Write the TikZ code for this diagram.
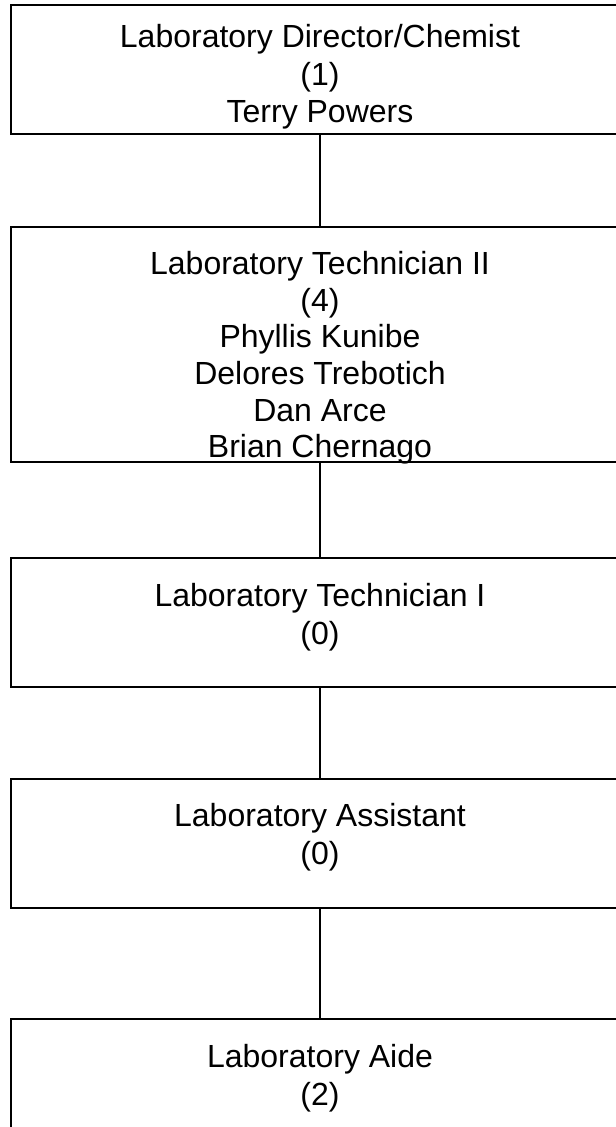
\documentclass[tikz,border=0pt]{standalone}
\usepackage{fontspec}
\setmainfont{Liberation Sans}
\begin{document}
\begin{tikzpicture}[x=0.75pt,y=-0.75pt,
  orgbox/.style={draw=black, line width=2.2pt, rectangle, inner sep=0pt,
    minimum width=463.5pt, fill=white},
  orgtext/.style={anchor=north, align=center, inner sep=0pt,
    font=\fontsize{24}{28}\selectfont},
  link/.style={draw=black, line width=2.2pt}]
\useasboundingbox (0,0) rectangle (616,1127);
\clip (0,0) rectangle (616,1127);
\fill[white] (0,0) rectangle (616,1127);
\node[orgbox, minimum height=96.75pt] (b1) at (320,69.5) {};
\node[orgbox, minimum height=176.25pt] (b2) at (320,344.5) {};
\node[orgbox, minimum height=96.75pt] (b3) at (320,622.5) {};
\node[orgbox, minimum height=96.75pt] (b4) at (320,843.5) {};
\node[orgbox, minimum height=96.75pt] (b5) at (320,1083.5) {};
\draw[link] (b1.south) -- (b2.north);
\draw[link] (b2.south) -- (b3.north);
\draw[link] (b3.south) -- (b4.north);
\draw[link] (b4.south) -- (b5.north);
\node[orgtext] (t1) at (320,24.5) {Laboratory Director/Chemist\\(1)\\Terry Powers};
\node[orgtext, font=\fontsize{24}{27.5}\selectfont] (t2) at (320,251) {Laboratory Technician II\\(4)\\Phyllis Kunibe\\Delores Trebotich\\Dan Arce\\Brian Chernago};
\node[orgtext] (t3) at (320,583.5) {Laboratory Technician I\\(0)};
\node[orgtext] (t4) at (320,803.5) {Laboratory Assistant\\(0)};
\node[orgtext] (t5) at (320,1044.5) {Laboratory Aide\\(2)};
\end{tikzpicture}
\end{document}
